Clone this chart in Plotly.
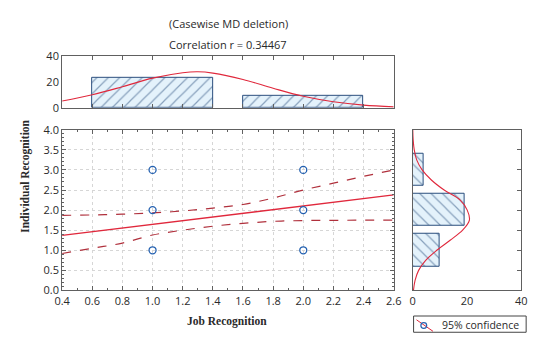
import plotly.graph_objects as go

# ---------------- data ----------------
pts_x = [1, 1, 1, 2, 2, 2]
pts_y = [1, 2, 3, 1, 2, 3]

reg_x = [0.4, 2.6]
reg_y = [1.37, 2.38]

band_x = [0.4, 0.6, 0.8, 1.0, 1.2, 1.4, 1.6, 1.8, 2.0, 2.2, 2.4, 2.6]
band_upper = [1.87, 1.88, 1.90, 1.93, 1.98, 2.05, 2.14, 2.30, 2.50, 2.67, 2.84, 3.00]
band_lower = [0.92, 1.05, 1.18, 1.38, 1.50, 1.60, 1.67, 1.72, 1.74, 1.745, 1.75, 1.75]

top_bins = [1, 2]
top_counts = [23, 9]
top_curve_x = [0.4, 0.6, 0.8, 1.0, 1.2, 1.3, 1.4, 1.6, 1.8, 2.0, 2.2, 2.4, 2.6]
top_curve_y = [5.2, 10.0, 16.2, 22.8, 27.0, 27.7, 26.7, 21.8, 15.0, 8.8, 4.6, 2.0, 0.7]

right_bins = [1, 2, 3]
right_counts = [10, 19, 4]
right_curve_y = [0.0, 0.25, 0.5, 0.75, 1.0, 1.25, 1.5, 1.75, 2.0, 2.25, 2.5, 2.75,
                 3.0, 3.25, 3.5, 3.75, 4.0]
right_curve_x = [0.3, 0.9, 2.2, 4.8, 8.9, 13.8, 18.4, 20.9, 20.1, 17.5, 11.6, 6.9,
                 3.5, 1.5, 0.6, 0.2, 0.05]

title_lines = ["(Casewise MD deletion)", "Correlation r = 0.34467"]
x_title = "Job Recognition"
y_title = "Individual Recognition"
legend_text = "95% confidence"

# ---------------- styling ----------------
W, H = 539, 345
FONT = "Open Sans"
TXT = "#2a2a2a"
FRAME = "#606060"
NAVY = "#2b4f7e"
LIGHT = "#e4f2fb"
RED = "#e0283c"
DRED = "#b0303c"


def px_x(p):
    return p / W


def px_y(p):
    return 1 - p / H


main_xd = [px_x(55.8), px_x(397.5)]
main_yd = [px_y(295.3), px_y(127.3)]
top_yd = [px_y(104.3), px_y(50)]
right_xd = [px_x(417), px_x(529)]

fig = go.Figure()

# main scatter panel
fig.add_trace(go.Scatter(x=band_x, y=band_upper, mode="lines", line=dict(color=DRED, width=1.2, dash="dash", shape="spline"),
                         xaxis="x", yaxis="y", showlegend=False, hoverinfo="skip"))
fig.add_trace(go.Scatter(x=band_x, y=band_lower, mode="lines", line=dict(color=DRED, width=1.2, dash="dash", shape="spline"),
                         xaxis="x", yaxis="y", showlegend=False, hoverinfo="skip"))
fig.add_trace(go.Scatter(x=reg_x, y=reg_y, mode="lines", line=dict(color=RED, width=1.4),
                         xaxis="x", yaxis="y", showlegend=False))
fig.add_trace(go.Scatter(x=pts_x, y=pts_y, mode="markers",
                         marker=dict(symbol="circle-open", size=7, color="#2360b0", line=dict(width=1.3)),
                         xaxis="x", yaxis="y", showlegend=False))

# top histogram
fig.add_trace(go.Bar(x=top_bins, y=top_counts, width=0.8,
                     marker=dict(color=LIGHT, line=dict(color=NAVY, width=1),
                                 pattern=dict(shape="/", fgcolor=NAVY, bgcolor=LIGHT, size=8, solidity=0.15)),
                     xaxis="x2", yaxis="y2", showlegend=False))
fig.add_trace(go.Scatter(x=top_curve_x, y=top_curve_y, mode="lines", line=dict(color=RED, width=1.1, shape="spline"),
                         xaxis="x2", yaxis="y2", showlegend=False))

# right histogram
fig.add_trace(go.Bar(y=right_bins, x=right_counts, width=0.8, orientation="h",
                     marker=dict(color=LIGHT, line=dict(color=NAVY, width=1),
                                 pattern=dict(shape="\\", fgcolor=NAVY, bgcolor=LIGHT, size=8, solidity=0.15)),
                     xaxis="x3", yaxis="y3", showlegend=False))
fig.add_trace(go.Scatter(x=right_curve_x, y=right_curve_y, mode="lines", line=dict(color=RED, width=1.1, shape="spline"),
                         xaxis="x3", yaxis="y3", showlegend=False))

tickfont = dict(family=FONT, size=11, color=TXT)
axis_common = dict(showline=True, linecolor=FRAME, linewidth=1, mirror="allticks",
                   ticks="inside", ticklen=4, tickcolor=FRAME, tickfont=tickfont, zeroline=False)

fig.update_layout(
    width=W, height=H,
    margin=dict(l=0, r=0, t=0, b=0),
    paper_bgcolor="white", plot_bgcolor="white",
    bargap=0,
    xaxis=dict(domain=main_xd, range=[0.4, 2.6], dtick=0.2, tick0=0.4, tickformat=".1f",
               showgrid=True, gridcolor="#d6d6d6", griddash="dot", gridwidth=1,
               minor=dict(ticks="inside", dtick=0.1, ticklen=2, tickcolor=FRAME), anchor="y", **axis_common),
    yaxis=dict(domain=main_yd, range=[0, 4], dtick=0.5, tickformat=".1f",
               showgrid=True, gridcolor="#d6d6d6", griddash="dot", gridwidth=1,
               minor=dict(ticks="inside", dtick=0.1, ticklen=2, tickcolor=FRAME), anchor="x", **axis_common),
    xaxis2=dict(domain=main_xd, range=[0.4, 2.6], dtick=0.2, tick0=0.4, showticklabels=False,
                showgrid=False, anchor="y2", **axis_common),
    yaxis2=dict(domain=top_yd, range=[0, 40], dtick=20, showgrid=False, anchor="x2",
                showline=True, linecolor=FRAME, linewidth=1, mirror=True, ticks="", tickfont=tickfont, zeroline=False),
    xaxis3=dict(domain=right_xd, range=[0, 40], dtick=20, showgrid=False, anchor="y3",
                showline=True, linecolor=FRAME, linewidth=1, mirror=True, ticks="", tickfont=tickfont, zeroline=False),
    yaxis3=dict(domain=main_yd, range=[0, 4], dtick=0.5, showticklabels=False, showgrid=False, anchor="x3",
                side="right", showline=True, linecolor=FRAME, linewidth=1, mirror=True,
                ticks="inside", ticklen=4, tickcolor=FRAME, zeroline=False),
)

annots = [
    dict(text=title_lines[0], x=px_x(227), y=px_y(16)),
    dict(text=title_lines[1], x=px_x(227), y=px_y(38)),
    dict(text="<b>" + x_title + "</b>", x=px_x(226), y=px_y(328),
         font=dict(family="Liberation Serif", size=11.5, color=TXT)),
    dict(text="<b>" + y_title + "</b>", x=px_x(18), y=px_y(176), textangle=-90,
         font=dict(family="Liberation Serif", size=11.5, color=TXT)),
    dict(text=legend_text, x=px_x(445), y=px_y(331), xanchor="left",
         font=dict(family=FONT, size=10.5, color=TXT)),
]
for a in annots:
    a.setdefault("font", dict(family=FONT, size=11, color=TXT))
    a.setdefault("xanchor", "center")
    a.update(xref="paper", yref="paper", yanchor="middle", showarrow=False)
fig.update_layout(annotations=annots)

fig.update_layout(shapes=[
    dict(type="rect", xref="paper", yref="paper", x0=px_x(418), x1=px_x(534), y0=px_y(339), y1=px_y(322),
         line=dict(color="#444", width=1), fillcolor="white"),
    dict(type="line", xref="paper", yref="paper", x0=px_x(421), x1=px_x(438), y0=px_y(326), y1=px_y(338),
         line=dict(color=RED, width=1)),
    dict(type="circle", xref="paper", yref="paper", x0=px_x(425.5), x1=px_x(431.5), y0=px_y(335), y1=px_y(329),
         line=dict(color="#2360b0", width=1.2)),
])

fig.write_html("out.html", config={"displayModeBar": False},
               post_script="document.body.style.margin='0';")
